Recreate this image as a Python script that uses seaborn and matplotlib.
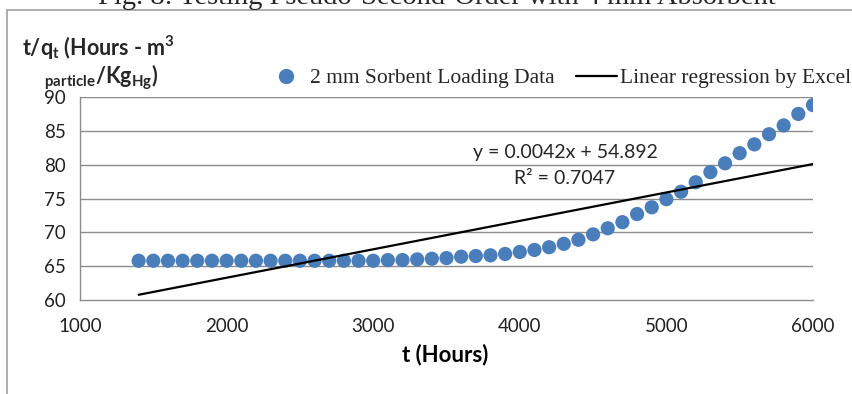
import matplotlib
matplotlib.use("Agg")
import matplotlib.pyplot as plt
import seaborn as sns
import pandas as pd
from matplotlib.lines import Line2D

# ---- data ----
t_hours = [1400, 1500, 1600, 1700, 1800, 1900, 2000, 2100, 2200, 2300,
           2400, 2500, 2600, 2700, 2800, 2900, 3000, 3100, 3200, 3300,
           3400, 3500, 3600, 3700, 3800, 3900, 4000, 4100, 4200, 4300,
           4400, 4500, 4600, 4700, 4800, 4900, 5000, 5100, 5200, 5300,
           5400, 5500, 5600, 5700, 5800, 5900, 6000]
t_over_q = [65.8, 65.8, 65.8, 65.8, 65.8, 65.8, 65.8, 65.8, 65.8, 65.8,
            65.8, 65.8, 65.8, 65.8, 65.8, 65.8, 65.8, 65.9, 65.9, 66.0,
            66.1, 66.2, 66.4, 66.5, 66.6, 66.8, 67.1, 67.4, 67.8, 68.3,
            68.9, 69.7, 70.6, 71.5, 72.7, 73.7, 74.9, 76.0, 77.4, 78.9,
            80.2, 81.7, 83.0, 84.5, 85.8, 87.5, 88.8]
trend_slope = 0.0042
trend_intercept = 54.892
trend_x = [1400, 6000]
trend_y = [trend_slope * v + trend_intercept for v in trend_x]
x_ticks = [1000, 2000, 3000, 4000, 5000, 6000]
y_ticks = [60, 65, 70, 75, 80, 85, 90]
series_label = "2 mm Sorbent Loading Data"
trend_label = "Linear regression by Excel"
eq_text = "y = 0.0042x + 54.892"
r2_text = "R² = 0.7047"
caption = "Fig. 8: Testing Pseudo-Second-Order with 4 mm Absorbent"

df = pd.DataFrame({"t": t_hours, "tq": t_over_q})
df_trend = pd.DataFrame({"t": trend_x, "tq": trend_y})

sns.set_theme(style="white")
plt.rcParams["font.family"] = ["Lato", "DejaVu Sans"]

W, H = 852, 394
fig = plt.figure(figsize=(W / 100, H / 100), dpi=100)
ax = fig.add_axes([80 / W, 1 - 300 / H, (813 - 80) / W, (300 - 97) / H])

blue = "#4A7EBB"
grid_c = "#8C8C8C"

for yv in y_ticks[1:]:
    ax.axhline(yv, color=grid_c, lw=1.0, zorder=0)

sns.scatterplot(data=df, x="t", y="tq", ax=ax, color=blue, s=105,
                edgecolor="none", zorder=3, legend=False)
sns.lineplot(data=df_trend, x="t", y="tq", ax=ax, color="black", lw=1.6,
             zorder=4, legend=False)

ax.set_xlim(1000, 6000)
ax.set_ylim(60, 90)
ax.set_xticks(x_ticks)
ax.set_yticks(y_ticks)
ax.set_xticklabels([str(v) for v in x_ticks])
ax.set_yticklabels([str(v) for v in y_ticks])
ax.tick_params(axis="both", labelsize=13.5, colors="#222222", length=5,
               width=1.0, direction="out", pad=5)
ax.tick_params(axis="both", color=grid_c)
ax.tick_params(axis="x", pad=8)
for s in ["top", "right"]:
    ax.spines[s].set_visible(False)
for s in ["left", "bottom"]:
    ax.spines[s].set_color(grid_c)
    ax.spines[s].set_linewidth(1.0)
ax.set_xlabel("")
ax.set_ylabel("")

# x label
fig.text(445 / W, 1 - 355 / H, "t (Hours)", ha="center", va="center",
         fontsize=16, fontweight="bold", color="black")
# y label (two lines, top-left)
fig.text(22 / W, 1 - 48 / H, r"t/q$_\mathregular{t}$ (Hours - m$^\mathregular{3}$",
         ha="left", va="center", fontsize=15.5, fontweight="bold")
fig.text(44 / W, 1 - 77 / H,
         r"$_\mathregular{particle}$/Kg$_\mathregular{Hg}$)",
         ha="left", va="center", fontsize=15.5, fontweight="bold")

# equation
fig.text(565 / W, 1 - 152 / H, eq_text, ha="center", va="center", fontsize=14)
fig.text(565 / W, 1 - 179 / H, r2_text, ha="center", va="center", fontsize=14)

# legend
handles = [Line2D([], [], marker="o", ls="none", color=blue, markersize=10),
           Line2D([], [], color="black", lw=1.6)]
leg = fig.legend(handles, [series_label, trend_label], loc="center right",
                 bbox_to_anchor=(851 / W, 1 - 78 / H), ncol=2, frameon=False,
                 prop={"family": "Liberation Serif", "size": 15.5},
                 handlelength=1.9, handletextpad=0.15, columnspacing=1.0,
                 borderaxespad=0, borderpad=0)

# outer frame (only top and left visible)
fig.add_artist(Line2D([6.5 / W, 6.5 / W], [0, 1 - 9.5 / H], color="#A0A0A0",
                      lw=1.2, transform=fig.transFigure))
fig.add_artist(Line2D([6.5 / W, 1], [1 - 9.5 / H, 1 - 9.5 / H], color="#A0A0A0",
                      lw=1.2, transform=fig.transFigure))

# caption, clipped at the very top as in the reference
fig.text(437 / W, 1 - 4 / H, caption, ha="center", va="baseline",
         fontsize=20.5, family="Liberation Serif")

fig.savefig("out.png", dpi=100)
